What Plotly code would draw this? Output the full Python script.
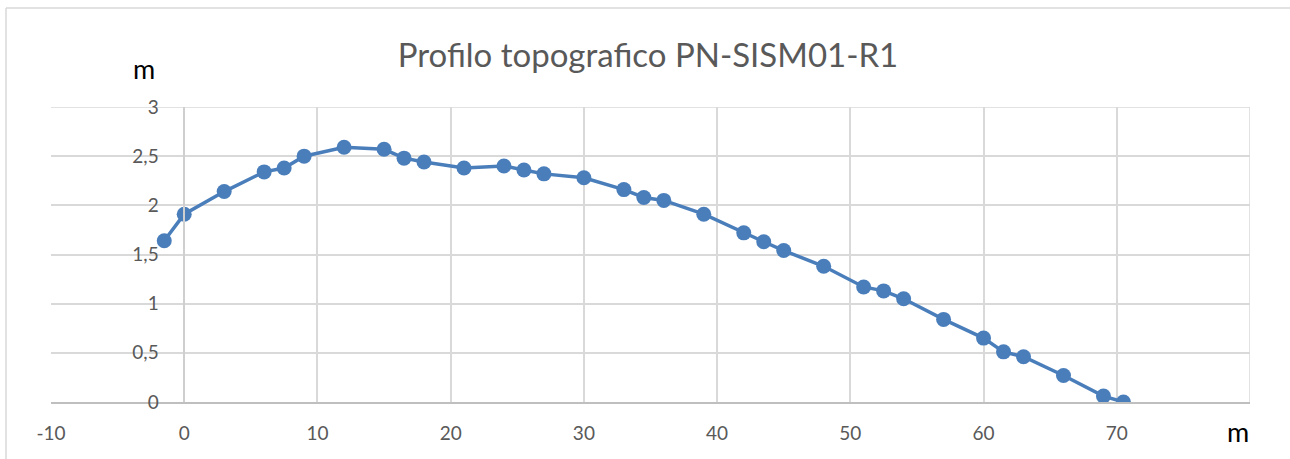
import plotly.graph_objects as go

# Profile survey points: distance along the line (m) and elevation (m)
distance = [-1.5, 0, 3, 6, 7.5, 9, 12, 15, 16.5, 18, 21, 24, 25.5, 27, 30,
            33, 34.5, 36, 39, 42, 43.5, 45, 48, 51, 52.5, 54, 57, 60, 61.5,
            63, 66, 69, 70.5]
elevation = [1.64, 1.91, 2.14, 2.34, 2.38, 2.50, 2.59, 2.57, 2.48, 2.44, 2.38,
             2.40, 2.36, 2.32, 2.28, 2.16, 2.08, 2.05, 1.91, 1.72, 1.63, 1.54,
             1.38, 1.17, 1.13, 1.05, 0.84, 0.65, 0.51, 0.46, 0.27, 0.06, 0.00]

x_ticks = [-10, 0, 10, 20, 30, 40, 50, 60, 70, 80]
x_tick_labels = ["-10", "0", "10", "20", "30", "40", "50", "60", "70", ""]
y_ticks = [0, 0.5, 1, 1.5, 2, 2.5, 3]

W, H = 1290, 459
L, R, T, B = 51, 40, 107, 57
PW, PH = W - L - R, H - T - B
x_min, x_max = -10, 80
yaxis_pos = (0 - x_min) / (x_max - x_min)

FONT = "Lato, Open Sans, sans-serif"
grid = "#d9d9d9"

fig = go.Figure()
fig.add_trace(go.Scatter(
    x=distance, y=elevation, mode="lines+markers",
    line=dict(color="#4a7ebb", width=3.5),
    marker=dict(color="#4a7ebb", size=15),
    hoverinfo="x+y", showlegend=False,
))

fig.update_layout(
    width=W, height=H,
    margin=dict(l=L, r=R, t=T, b=B),
    paper_bgcolor="white", plot_bgcolor="white",
    separators=", ",
    font=dict(family=FONT, size=19, color="#595959"),
    title=dict(text="Profilo topografico PN-SISM01-R1", x=648 / W,
               xanchor="center", y=1 - 55 / H, yanchor="middle",
               font=dict(family=FONT, size=33, color="#595959")),
    xaxis=dict(range=[x_min, x_max], tickvals=x_ticks, ticktext=x_tick_labels,
               showgrid=True, gridcolor=grid, gridwidth=1.5,
               zeroline=False, showline=True, linecolor="#bfbfbf", linewidth=1.5,
               ticks="", ticklabelstandoff=13,
               tickfont=dict(family=FONT, size=19, color="#595959")),
    yaxis=dict(range=[0, 3], tickvals=y_ticks, anchor="free", position=yaxis_pos,
               showgrid=True, gridcolor=grid, gridwidth=1.5,
               zeroline=False, showline=True, linecolor="#cfcfcf", linewidth=1.5,
               ticks="", ticklabelstandoff=21,
               tickfont=dict(family=FONT, size=19, color="#595959")),
    shapes=[
        # chart area border (top and left edges are inside the page)
        dict(type="line", xref="paper", yref="paper",
             x0=(6 - L) / PW, x1=(W - L) / PW,
             y0=(H - 8 - B) / PH, y1=(H - 8 - B) / PH,
             line=dict(color="#d9d9d9", width=1.5), layer="below"),
        dict(type="line", xref="paper", yref="paper",
             x0=(6 - L) / PW, x1=(6 - L) / PW,
             y0=(H - 8 - B) / PH, y1=-B / PH,
             line=dict(color="#d9d9d9", width=1.5), layer="below"),
        # gridlines along the top and right of the plot area
        dict(type="line", xref="paper", yref="y", x0=0, x1=1, y0=3, y1=3,
             line=dict(color=grid, width=1.5), layer="below"),
        dict(type="line", xref="x", yref="paper", x0=x_max, x1=x_max, y0=0, y1=1,
             line=dict(color=grid, width=1.5), layer="below"),
    ],
    annotations=[
        dict(text="m", xref="paper", yref="paper",
             x=(144 - L) / PW, y=(H - 68 - B) / PH,
             showarrow=False, xanchor="center", yanchor="middle",
             font=dict(family=FONT, size=27, color="#000000")),
        dict(text="m", xref="paper", yref="paper",
             x=(1238 - L) / PW, y=(H - 431 - B) / PH,
             showarrow=False, xanchor="center", yanchor="middle",
             font=dict(family=FONT, size=27, color="#000000")),
    ],
)

fig.write_html("out.html")
